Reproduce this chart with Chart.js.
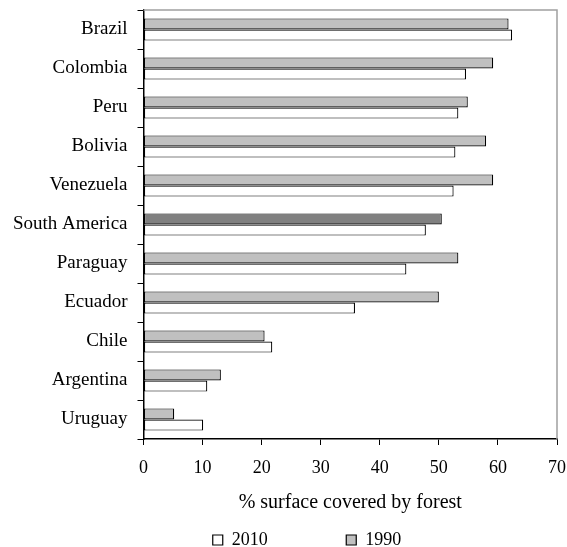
<!DOCTYPE html>
<html>
<head>
<meta charset="utf-8">
<script src="https://cdn.jsdelivr.net/npm/chart.js@4"></script>
<style>
  body { margin: 0; background: #fff; }
</style>
</head>
<body>
<canvas id="forest" width="567" height="547"></canvas>
<script>
// data
const countries = ['Brazil', 'Colombia', 'Peru', 'Bolivia', 'Venezuela', 'South America',
                   'Paraguay', 'Ecuador', 'Chile', 'Argentina', 'Uruguay'];
const cover1990 = [61.8, 59.2, 54.9, 58.0, 59.2, 50.5, 53.3, 50.0, 20.5, 13.1, 5.2];
const cover2010 = [62.4, 54.6, 53.3, 52.8, 52.5, 47.8, 44.5, 35.8, 21.8, 10.8, 10.1];
const xMin = 0, xMax = 70, xStep = 10;
const axisTitle = '% surface covered by forest';

const gray = '#c0c0c0';
const darkGray = '#808080';

Chart.defaults.font.family = '"Liberation Serif", "Times New Roman", serif';
Chart.defaults.color = '#000';

// gray frame on top and right of the plot
const frame = {
  id: 'frame',
  beforeDatasetsDraw(chart) {
    const a = chart.chartArea, ctx = chart.ctx;
    ctx.save();
    ctx.strokeStyle = '#a0a0a0';
    ctx.lineWidth = 1.5;
    ctx.beginPath();
    ctx.moveTo(a.left, a.top);
    ctx.lineTo(a.right, a.top);
    ctx.lineTo(a.right, a.bottom);
    ctx.stroke();
    ctx.restore();
  }
};

// no extra room for the labels, the plot keeps its own box
function noPadding(scale) {
  scale.paddingTop = 0;
  scale.paddingBottom = 0;
  scale.paddingLeft = 0;
  scale.paddingRight = 0;
}

new Chart(document.getElementById('forest'), {
  type: 'bar',
  data: {
    labels: countries,
    datasets: [
      {
        label: '1990',
        data: cover1990,
        backgroundColor: countries.map(c => c === 'South America' ? darkGray : gray),
        borderColor: '#000',
        borderWidth: 1.2,
        borderSkipped: false
      },
      {
        label: '2010',
        data: cover2010,
        backgroundColor: '#fff',
        borderColor: '#000',
        borderWidth: 1.2,
        borderSkipped: false
      }
    ]
  },
  options: {
    indexAxis: 'y',
    responsive: false,
    animation: false,
    categoryPercentage: 0.57,
    barPercentage: 1.0,
    layout: { padding: { top: 10, right: 10, left: 0, bottom: -12 } },
    plugins: {
      tooltip: { enabled: false },
      legend: {
        position: 'bottom',
        labels: {
          boxWidth: 10,
          boxHeight: 10,
          padding: 11,
          font: { size: 18 },
          generateLabels: () => [
            // empty first item just pushes the two real ones to the right
            { text: ' '.repeat(6), fillStyle: 'rgba(0,0,0,0)', strokeStyle: 'rgba(0,0,0,0)', lineWidth: 0, hidden: false },
            { text: '2010' + ' '.repeat(15), fillStyle: '#fff', strokeStyle: '#000', lineWidth: 1.2, datasetIndex: 1, hidden: false },
            { text: '1990', fillStyle: gray, strokeStyle: '#000', lineWidth: 1.2, datasetIndex: 0, hidden: false }
          ]
        }
      }
    },
    scales: {
      x: {
        min: xMin,
        max: xMax,
        ticks: { stepSize: xStep, padding: 12, font: { size: 18 } },
        grid: { drawOnChartArea: false, drawTicks: true, tickLength: 6, color: '#000' },
        border: { color: '#000', width: 1.5 },
        title: { display: true, text: axisTitle, font: { size: 20 }, padding: { top: 0, bottom: 5 } },
        afterFit(scale) { scale.height = 81; noPadding(scale); }
      },
      y: {
        offset: true,
        ticks: { padding: 10, font: { size: 19 } },
        grid: { offset: true, drawOnChartArea: false, drawTicks: true, tickLength: 6, color: '#000' },
        border: { color: '#000', width: 1.5 },
        afterFit(scale) { scale.width = 143.5; noPadding(scale); }
      }
    }
  },
  plugins: [frame]
});
</script>
</body>
</html>
